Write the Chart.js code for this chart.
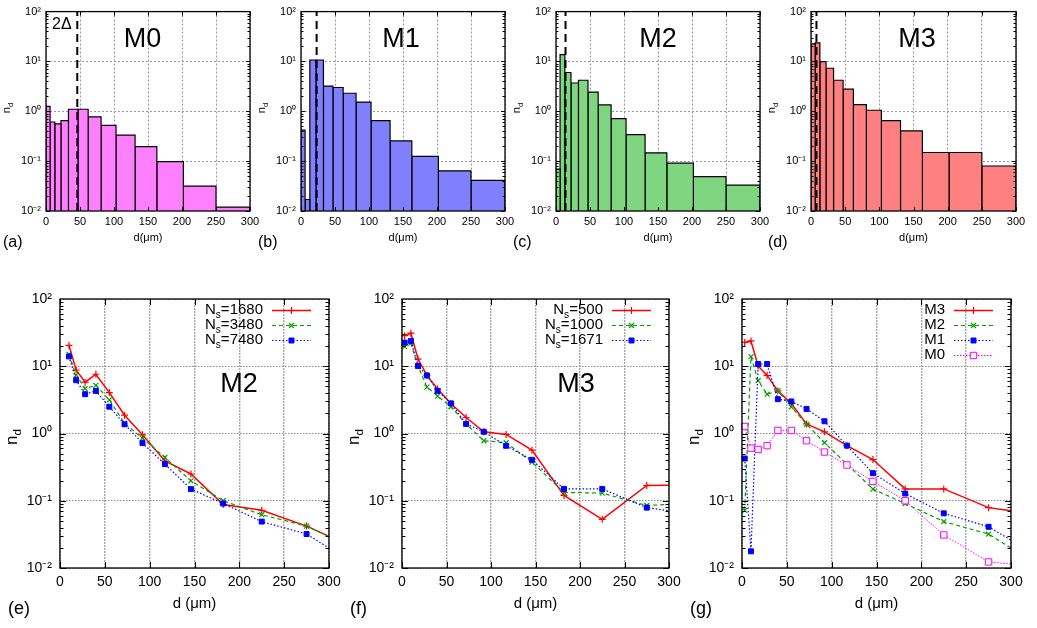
<!DOCTYPE html>
<html><head><meta charset="utf-8">
<script src="https://cdn.jsdelivr.net/npm/chart.js@4.4.1/dist/chart.umd.min.js"></script>
<style>
html,body{margin:0;padding:0;background:#fff;}
#wrap{position:relative;width:1037px;height:628px;overflow:hidden;background:#fff;}
#wrap canvas{position:absolute;left:0;top:0;}
</style></head><body><div id="wrap"></div>
<script>
// ---------------- data ----------------
const binEdges = [0, 6, 13, 22, 33, 47, 62, 81, 103, 131, 163, 202, 250, 300];
const histM0 = [1.26, 0.61, 0.56, 0.65, 1.10, 1.10, 0.77, 0.52, 0.334, 0.195, 0.098, 0.0316, 0.012];
const histM1 = [0.42, 0.017, 10.7, 10.7, 3.2, 3.0, 2.3, 1.53, 0.65, 0.255, 0.125, 0.064, 0.041];
const histM2 = [0.069, 13.7, 6.0, 3.7, 4.2, 2.43, 1.34, 0.71, 0.34, 0.147, 0.091, 0.049, 0.033];
const histM3 = [22.5, 23.5, 9.9, 7.3, 4.2, 2.78, 1.36, 1.05, 0.65, 0.405, 0.149, 0.149, 0.080];
const twoDelta = [46, 23, 14, 8];

// bin centres, last entry = right edge of the axis (line continues there)
const lineX = [3, 10, 18, 28, 40, 55, 72, 92, 117, 146, 182, 225, 275, 300];
const m2Ns1680 = [null, 20.5, 8.8, 5.8, 7.6, 4.06, 1.87, 0.955, 0.39, 0.25, 0.088, 0.072, 0.042, 0.0295];
const m2Ns3480 = [null, 15.0, 7.4, 4.66, 5.2, 3.16, 1.42, 0.85, 0.44, 0.198, 0.100, 0.062, 0.042, 0.0295];
const m2Ns7480 = [null, 14.0, 6.2, 3.84, 4.3, 2.5, 1.37, 0.72, 0.35, 0.149, 0.091, 0.049, 0.032, 0.0198];
const m3Ns500  = [28.5, 31.0, 12.8, 7.3, 4.6, 2.8, 1.73, 1.06, 0.97, 0.565, 0.120, 0.053, 0.169, 0.170];
const m3Ns1000 = [19.6, 22.0, 10.1, 4.9, 3.6, 2.5, 1.39, 0.78, 0.73, 0.375, 0.133, 0.130, 0.085, 0.088];
const m3Ns1671 = [22.5, 23.8, 10.1, 7.3, 4.3, 2.8, 1.39, 1.06, 0.656, 0.406, 0.150, 0.150, 0.079, 0.071];
const cmpM3 = [22.6, 23.8, 10.1, 7.3, 4.3, 2.8, 1.39, 1.06, 0.66, 0.41, 0.150, 0.150, 0.079, 0.071];
const cmpM2 = [0.072, 13.9, 6.1, 3.84, 4.3, 2.48, 1.37, 0.73, 0.35, 0.149, 0.091, 0.049, 0.032, 0.0198];
const cmpM1 = [0.425, 0.0177, 10.8, 10.8, 3.24, 3.0, 2.32, 1.52, 0.66, 0.257, 0.128, 0.065, 0.041, 0.026];
const cmpM0 = [1.27, 0.605, 0.58, 0.66, 1.11, 1.11, 0.78, 0.53, 0.34, 0.194, 0.100, 0.031, 0.0123, 0.0115];

const yTickValues = [0.01, 0.1, 1, 10, 100];
const yTickLabels = ['10\u207B\u00B2', '10\u207B\u00B9', '10\u2070', '10\u00B9', '10\u00B2'];
const xMin = 0, xMax = 300, xStep = 50, yMin = 0.01, yMax = 100;

// ---------------- helpers ----------------
const W = 1037, H = 628;
const FAM = '"Liberation Sans", Arial, Helvetica, sans-serif';
const wrap = document.getElementById('wrap');

function richWidth(ctx, parts, size) {
  let w = 0;
  for (const p of parts) { ctx.font = (p.sub ? size * 0.68 : size) + 'px ' + FAM; w += ctx.measureText(p.t).width; }
  return w;
}
function drawRich(ctx, parts, x, y, size, align) {
  const w = richWidth(ctx, parts, size);
  let cx = align === 'right' ? x - w : align === 'center' ? x - w / 2 : x;
  ctx.textBaseline = 'middle'; ctx.textAlign = 'left';
  for (const p of parts) {
    const s = p.sub ? size * 0.68 : size;
    ctx.font = s + 'px ' + FAM;
    ctx.fillText(p.t, cx, y + (p.sub ? size * 0.32 : 0));
    cx += ctx.measureText(p.t).width;
  }
}

function decor(cfg) {
  return {
    id: 'decor',
    afterDatasetsDraw(chart) {
      const {ctx, chartArea: a, scales} = chart;
      ctx.save();
      ctx.strokeStyle = '#000'; ctx.lineWidth = 1; ctx.setLineDash([]);
      ctx.beginPath();
      scales.x.ticks.forEach(t => {
        const px = Math.round(scales.x.getPixelForValue(t.value)) + 0.5;
        ctx.moveTo(px, a.bottom); ctx.lineTo(px, a.bottom - cfg.major);
        ctx.moveTo(px, a.top); ctx.lineTo(px, a.top + cfg.major);
      });
      for (let e = -2; e < 2; e++) for (let k = 1; k < 10; k++) {
        const py = Math.round(scales.y.getPixelForValue(k * Math.pow(10, e))) + 0.5;
        const len = k === 1 ? cfg.major : cfg.minor;
        ctx.moveTo(a.left, py); ctx.lineTo(a.left + len, py);
        ctx.moveTo(a.right, py); ctx.lineTo(a.right - len, py);
      }
      ctx.stroke();
      ctx.lineWidth = 1.3;
      ctx.strokeRect(a.left, a.top, a.right - a.left, a.bottom - a.top);
      ctx.restore();
    },
    afterDraw(chart) {
      const ctx = chart.ctx;
      ctx.save();
      ctx.fillStyle = '#000';
      for (const t of cfg.texts) {
        if (t.rot) {
          ctx.save(); ctx.translate(t.x, t.y); ctx.rotate(-Math.PI / 2);
          drawRich(ctx, t.parts, 0, 0, t.size, 'center');
          ctx.restore();
        } else {
          drawRich(ctx, t.parts, t.x, t.y, t.size, t.align || 'center');
        }
      }
      if (cfg.legend) {
        const L = cfg.legend;
        L.items.forEach((it, i) => {
          const y = L.y0 + i * L.dy;
          ctx.fillStyle = '#000';
          drawRich(ctx, it.parts, L.textRight, y, L.size, 'right');
          const st = it.style;
          ctx.save();
          ctx.strokeStyle = st.color; ctx.lineWidth = st.width; ctx.setLineDash(st.dash || []);
          ctx.beginPath(); ctx.moveTo(L.x0, y + 0.5); ctx.lineTo(L.x1, y + 0.5); ctx.stroke();
          ctx.setLineDash([]);
          ctx.strokeStyle = st.color; ctx.fillStyle = st.pointFill; ctx.lineWidth = st.pointBorder;
          Chart.helpers.drawPoint(ctx, {pointStyle: st.pointStyle, radius: st.radius, rotation: 0, borderWidth: st.pointBorder}, (L.x0 + L.x1) / 2, y + 0.5);
          ctx.restore();
        });
      }
      ctx.restore();
    }
  };
}

function makeChart(box, datasets, axis, cfg) {
  const cv = document.createElement('canvas');
  cv.width = W; cv.height = H; cv.style.width = W + 'px'; cv.style.height = H + 'px';
  wrap.appendChild(cv);
  const gridX = {color: axis.gridColorX, lineWidth: axis.gridWidthX, drawTicks: false, borderDash: axis.dashX};
  const gridY = {color: axis.gridColorY, lineWidth: 1, drawTicks: false, borderDash: axis.dashY};
  return new Chart(cv.getContext('2d'), {
    type: 'line',
    data: {datasets},
    options: {
      responsive: false, animation: false, events: [],
      layout: {padding: {left: box.l - axis.yW, top: box.t, right: W - box.r, bottom: H - box.b - axis.xH}},
      plugins: {legend: {display: false}, tooltip: {enabled: false}, title: {display: false}},
      scales: {
        x: {
          type: 'linear', min: xMin, max: xMax,
          ticks: {stepSize: xStep, color: '#000', font: {family: FAM, size: axis.tickSize}, padding: axis.padX, maxRotation: 0, autoSkip: false},
          grid: gridX, border: {display: false, dash: axis.dashX},
          afterFit: s => { s.height = axis.xH; }
        },
        y: {
          type: 'logarithmic', min: yMin, max: yMax,
          afterBuildTicks: s => { s.ticks = yTickValues.map(v => ({value: v})); },
          ticks: {color: '#000', font: {family: FAM, size: axis.tickSize}, padding: axis.padY, autoSkip: false,
                  callback: (v) => { const i = yTickValues.findIndex(t => Math.abs(t - v) / t < 1e-6); return i >= 0 ? yTickLabels[i] : ''; }},
          grid: gridY, border: {display: false, dash: axis.dashY},
          afterFit: s => { s.width = axis.yW; }
        }
      }
    },
    plugins: [decor(cfg)]
  });
}

// ---------------- top histograms ----------------
const topAxis = {yW: 40, xH: 30, tickSize: 11, padX: 4, padY: 5,
  gridColorX: '#9a9a9a', gridWidthX: 1, gridColorY: '#9a9a9a', dashX: [2, 2], dashY: [2, 2]};
const topPanels = [
  {name: 'M0', tag: '(a)', values: histM0, fill: '#ff80ff', delta: twoDelta[0], l: 46, r: 250, tx: 142.5},
  {name: 'M1', tag: '(b)', values: histM1, fill: '#8080ff', delta: twoDelta[1], l: 301, r: 505, tx: 401},
  {name: 'M2', tag: '(c)', values: histM2, fill: '#80d580', delta: twoDelta[2], l: 556, r: 760, tx: 658},
  {name: 'M3', tag: '(d)', values: histM3, fill: '#ff8080', delta: twoDelta[3], l: 811, r: 1016, tx: 917}
];
topPanels.forEach((p, pi) => {
  const box = {l: p.l, r: p.r, t: 5, b: 211};
  const ds = [{
    data: [{x: p.delta, y: yMin}, {x: p.delta, y: yMax}],
    borderColor: '#000', borderWidth: 2, borderDash: [8, 5], pointRadius: 0, fill: false, order: 0, clip: false
  }];
  p.values.forEach((v, i) => {
    ds.push({
      data: [{x: binEdges[i], y: yMin}, {x: binEdges[i], y: v}, {x: binEdges[i + 1], y: v}, {x: binEdges[i + 1], y: yMin}],
      borderColor: '#000', borderWidth: 1.2, backgroundColor: p.fill, fill: 'start', pointRadius: 0, tension: 0, order: 1
    });
  });
  const texts = [
    {parts: [{t: 'n'}, {t: 'd', sub: true}], x: p.l - 39, y: 108, size: 11, rot: true},
    {parts: [{t: 'd(\u03BCm)'}], x: (p.l + p.r) / 2, y: 238, size: 11},
    {parts: [{t: p.tag}], x: p.l - 43, y: 243, size: 16, align: 'left'},
    {parts: [{t: p.name}], x: p.tx, y: 40, size: 27}
  ];
  if (pi === 0) texts.push({parts: [{t: '2\u0394'}], x: 52, y: 25, size: 16, align: 'left'});
  makeChart(box, ds, topAxis, {texts, major: 4, minor: 2.5});
});

// ---------------- bottom line plots ----------------
const styles = {
  red:   {color: '#ff0000', width: 1.5, dash: [], pointStyle: 'cross', radius: 3.5, pointBorder: 1.2, pointFill: '#ff0000'},
  green: {color: '#00a000', width: 1.2, dash: [4, 3], pointStyle: 'crossRot', radius: 3.5, pointBorder: 1.2, pointFill: '#00a000'},
  blue:  {color: '#0000ff', width: 1.2, dash: [1.5, 2], pointStyle: 'rect', radius: 3.5, pointBorder: 1, pointFill: '#0000ff'},
  mag:   {color: '#ff00ff', width: 1, dash: [1.5, 1.5], pointStyle: 'rect', radius: 4.5, pointBorder: 1, pointFill: '#ffffff'}
};
function lineDs(values, st, order) {
  const pts = [];
  values.forEach((v, i) => { if (v !== null) pts.push({x: lineX[i], y: v}); });
  return {
    data: pts, borderColor: st.color, borderWidth: st.width, borderDash: st.dash, tension: 0, fill: false,
    pointStyle: st.pointStyle, pointRadius: pts.map((_, i) => i === pts.length - 1 ? 0 : st.radius),
    pointBorderColor: st.color, pointBackgroundColor: st.pointFill, pointBorderWidth: st.pointBorder,
    order, clip: false
  };
}
const botAxis = {yW: 52, xH: 40, tickSize: 14, padX: 6, padY: 8,
  gridColorX: '#a8a8a8', gridWidthX: 1.4, gridColorY: '#8a8a8a', dashX: [2, 1], dashY: [1.5, 1.5]};
const sub = (a, b, c) => [{t: a}, {t: b, sub: true}, {t: c}];
const botPanels = [
  {tag: '(e)', name: 'M2', nx: 239, l: 60, r: 329,
   series: [[m2Ns1680, styles.red, sub('N', 's', '=1680')], [m2Ns3480, styles.green, sub('N', 's', '=3480')], [m2Ns7480, styles.blue, sub('N', 's', '=7480')]]},
  {tag: '(f)', name: 'M3', nx: 576, l: 402, r: 669,
   series: [[m3Ns500, styles.red, sub('N', 's', '=500')], [m3Ns1000, styles.green, sub('N', 's', '=1000')], [m3Ns1671, styles.blue, sub('N', 's', '=1671')]]},
  {tag: '(g)', name: null, l: 742, r: 1011,
   series: [[cmpM3, styles.red, [{t: 'M3'}]], [cmpM2, styles.green, [{t: 'M2'}]], [cmpM1, styles.blue, [{t: 'M1'}]], [cmpM0, styles.mag, [{t: 'M0'}]]]}
];
botPanels.forEach(p => {
  const box = {l: p.l, r: p.r, t: 299, b: 568};
  const n = p.series.length;
  const ds = p.series.map((s, i) => lineDs(s[0], s[1], n - i));
  const texts = [
    {parts: [{t: 'n'}, {t: 'd', sub: true}], x: p.l - 48, y: 437, size: 17, rot: true},
    {parts: [{t: 'd (\u03BCm)'}], x: (p.l + p.r) / 2, y: 604, size: 15},
    {parts: [{t: p.tag}], x: p.l - 52, y: 609, size: 18, align: 'left'}
  ];
  if (p.name) texts.push({parts: [{t: p.name}], x: p.nx, y: 385, size: 27});
  const legend = {textRight: p.r - 66, x0: p.r - 57, x1: p.r - 18, y0: 310, dy: 15, size: 15,
    items: p.series.map(s => ({parts: s[2], style: s[1]}))};
  makeChart(box, ds, botAxis, {texts, legend, major: 6, minor: 3.5});
});
</script>
</body></html>
